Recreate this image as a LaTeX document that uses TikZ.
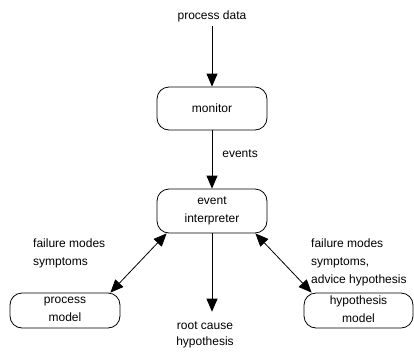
\documentclass[tikz,border=0pt]{standalone}
\usepackage{fontspec}
\setmainfont{Liberation Sans}
\usetikzlibrary{positioning, arrows.meta}

\begin{document}
\begin{tikzpicture}[x=1pt, y=-1pt,
  box/.style={draw, line width=0.8pt, rounded corners=12pt, minimum width=110pt, align=center},
  lbl/.style={font=\fontsize{12}{18}\selectfont, inner sep=0pt},
  flow/.style={line width=0.8pt, -{Triangle[length=13pt, width=11pt]}},
  both/.style={line width=0.8pt, {Triangle[length=13pt, width=11pt]}-{Triangle[length=13pt, width=11pt]}}]
\useasboundingbox (0,0) rectangle (414,351);

\node[lbl] (data) at (212,16) {process data};
\node[box, lbl, minimum height=43pt] (mon) at (212,108.5) {monitor};
\node[box, lbl, minimum height=44pt] (ei)  at (212,211) {event\\interpreter};
\node[box, lbl, minimum height=35pt, text depth=3pt] (pm)  at (65,310.5) {process\\model};
\node[box, lbl, minimum height=35pt, minimum width=109pt, text depth=3pt] (hm) at (358.5,310.5) {hypothesis\\model};
\node[lbl, align=center, font=\fontsize{12}{16}\selectfont] (rch) at (205,335) {root cause\\hypothesis};

\node[lbl, align=left, anchor=west] (lfm) at (33,253) {failure modes\\symptoms};
\node[lbl, align=left, anchor=west] (rfm) at (311,262) {failure modes\\symptoms,\\advice hypothesis};

\draw[flow] ([yshift=-4pt]data.south) -- (mon.north);
\draw[flow] (mon.south) -- node[lbl, right=10pt, pos=0.4] {events} (ei.north);
\draw[flow] (ei.south) -- ([yshift=10pt]ei.south |- rch.north);
\draw[both] ([xshift=10pt]ei.south west) -- ([xshift=-10pt]pm.north east);
\draw[both] ([xshift=-12pt]ei.south east) -- ([xshift=8pt]hm.north west);
\end{tikzpicture}
\end{document}
